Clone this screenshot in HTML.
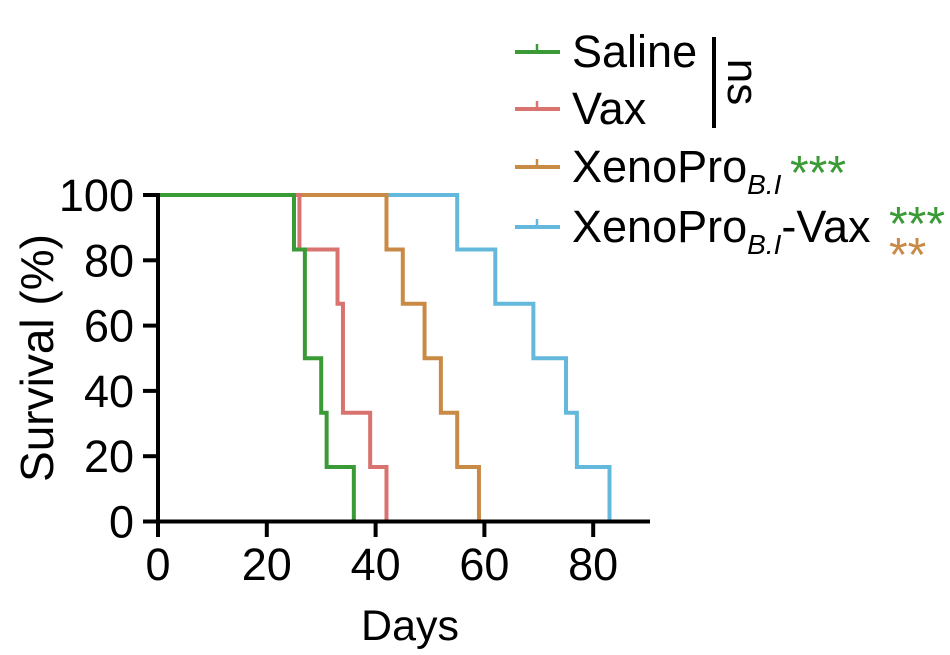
<!DOCTYPE html>
<html><head><meta charset="utf-8"><style>
body{margin:0;background:#fff;}
svg{display:block;font-family:"Liberation Sans",Arial,sans-serif;}
</style></head><body>
<svg id="chart" width="950" height="655" viewBox="0 0 950 655">
<g id="marks"></g>
<g id="axes"></g>
<text transform="translate(53,358) rotate(-90)" text-anchor="middle" font-size="46">Survival (%)</text>
<text x="410" y="640" text-anchor="middle" font-size="43">Days</text>
<g font-size="45">
 <g><line x1="515" y1="52" x2="560" y2="52" stroke="#3a9a35" stroke-width="4"/><line x1="537" y1="44" x2="537" y2="52" stroke="#3a9a35" stroke-width="2.5"/><text x="572" y="67">Saline</text></g>
 <g><line x1="515" y1="109" x2="560" y2="109" stroke="#d9736f" stroke-width="4"/><line x1="537" y1="101" x2="537" y2="109" stroke="#d9736f" stroke-width="2.5"/><text x="572" y="124">Vax</text></g>
 <g><line x1="515" y1="167" x2="560" y2="167" stroke="#c98a45" stroke-width="4"/><line x1="537" y1="159" x2="537" y2="167" stroke="#c98a45" stroke-width="2.5"/><text x="572" y="182">XenoPro<tspan font-size="28" font-style="italic" dy="12">B.I</tspan></text><text x="790" y="189" fill="#3a9a35" font-size="48">***</text></g>
 <g><line x1="515" y1="227" x2="560" y2="227" stroke="#63b8dc" stroke-width="4"/><line x1="537" y1="219" x2="537" y2="227" stroke="#63b8dc" stroke-width="2.5"/><text x="572" y="242">XenoPro<tspan font-size="28" font-style="italic" dy="12">B.I</tspan><tspan dy="-12">-Vax</tspan></text><text x="889" y="240" fill="#3a9a35" font-size="48">***</text><text x="889" y="271" fill="#c98a45" font-size="48">**</text></g>
 <line x1="714" y1="37" x2="714" y2="128" stroke="#000" stroke-width="4"/>
 <text transform="translate(728,82) rotate(90)" text-anchor="middle" font-size="44">ns</text>
</g>
</svg>
<script>
const seriesNames=["Saline","Vax","XenoPro B.I","XenoPro B.I-Vax"];
const seriesColors=["#3a9a35","#d9736f","#c98a45","#63b8dc"];
const salineDays=[0,25,27,30,31,36];
const salineSurv=[100,83.3,50,33.3,16.7,0];
const vaxDays=[0,26,33,34,39,42];
const vaxSurv=[100,83.3,66.7,33.3,16.7,0];
const xenoDays=[0,42,45,49,52,55,59];
const xenoSurv=[100,83.3,66.7,50,33.3,16.7,0];
const xenoVaxDays=[0,55,62,69,75,77,83];
const xenoVaxSurv=[100,83.3,66.7,50,33.3,16.7,0];
const xTicks=[0,20,40,60,80];
const yTicks=[0,20,40,60,80,100];
const NS="http://www.w3.org/2000/svg";
const X=d=>158+d*5.44;
const Y=v=>521.5-v*3.265;
const marks=document.getElementById('marks');
const axes=document.getElementById('axes');
const all=[[salineDays,salineSurv],[vaxDays,vaxSurv],[xenoDays,xenoSurv],[xenoVaxDays,xenoVaxSurv]];
for(let s=all.length-1;s>=0;s--){
  const [d,v]=all[s];
  let p="M"+X(d[0])+","+Y(v[0]);
  for(let i=1;i<d.length;i++){p+=" H"+X(d[i])+" V"+Y(v[i]);}
  const path=document.createElementNS(NS,'path');
  path.setAttribute('d',p);
  path.setAttribute('fill','none');
  path.setAttribute('stroke',seriesColors[s]);
  path.setAttribute('stroke-width','4');
  
  
  marks.appendChild(path);
}
function ln(x1,y1,x2,y2,name){
  const l=document.createElementNS(NS,'line');
  l.setAttribute('x1',x1);l.setAttribute('y1',y1);l.setAttribute('x2',x2);l.setAttribute('y2',y2);
  l.setAttribute('stroke','#000');l.setAttribute('stroke-width','4');
  
  
  axes.appendChild(l);
}
function tx(x,y,t,anchor,name){
  const e=document.createElementNS(NS,'text');
  e.setAttribute('x',x);e.setAttribute('y',y);e.setAttribute('text-anchor',anchor);
  e.setAttribute('font-size','45');e.textContent=t;
  
  
  axes.appendChild(e);
}
ln(X(0),Y(100)-2,X(0),537,'y-axis-line');
ln(143,Y(0),650,Y(0),'x-axis-line');
yTicks.forEach(v=>{ln(143,Y(v),X(0),Y(v),'y-tick');tx(134,Y(v)+16,String(v),'end','y-tick-label');});
xTicks.forEach(d=>{ln(X(d),Y(0),X(d),537,'x-tick');tx(X(d),580,String(d),'middle','x-tick-label');});
</script>
</body></html>
